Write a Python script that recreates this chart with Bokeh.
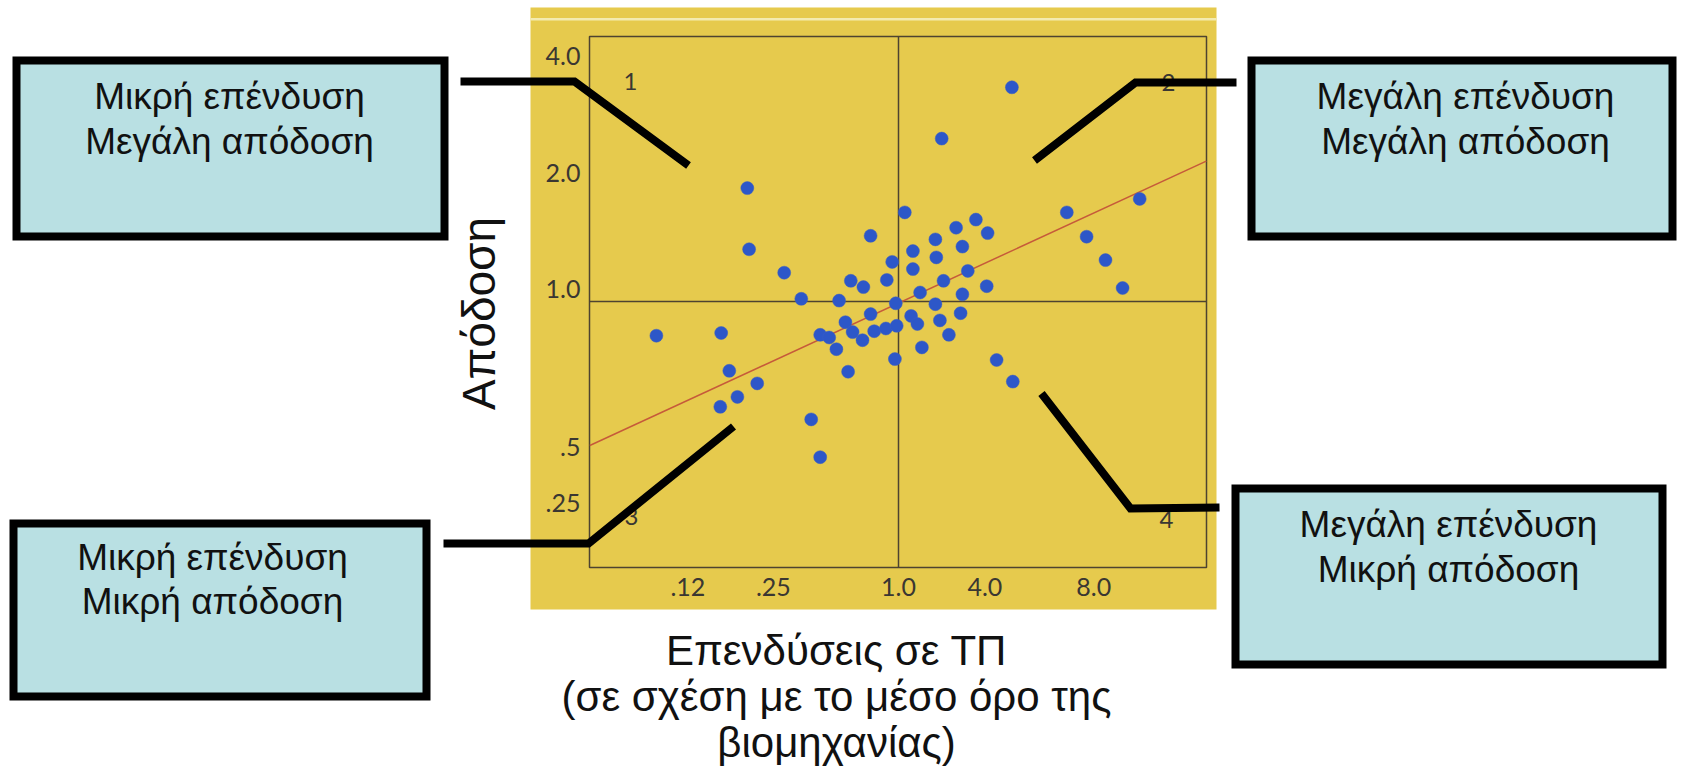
from math import pi
from bokeh.plotting import figure
from bokeh.models import Range1d, FixedTicker, BoxAnnotation, PolyAnnotation, Label, LinearAxis
from bokeh.embed import file_html
from bokeh.resources import INLINE

# ---------------- data (chart grid units, 0/0 = crossing of the "1.0" lines) ----------------
inv_x = [1.26, 0.48, -1.68, -1.66, -1.27, -0.31, 0.07, -0.07, 0.16, 0.16,
         -0.53, -0.39, -0.13, -1.08, -0.66, -0.03, 1.87, 2.68, 0.86, 0.64,
         0.99, 0.41, 0.71, 2.09, 0.42, 0.77, 2.30, 0.50, 0.98, 2.49,
         0.24, 0.71, 0.41, -0.31, 0.14, -2.69, -1.97, -0.59, -0.87, -0.77,
         -0.51, -0.40, -0.27, -0.14, -0.02, -0.69, -0.04, -0.56, -1.88, -1.57,
         -1.79, -1.98, -0.97, -0.87, 0.21, 0.46, 0.69, 0.56, 0.26, 1.09, 1.27]
ret_y = [2.38, 1.81, 1.26, 0.58, 0.32, 0.73, 0.99, 0.44, 0.56, 0.36,
         0.23, 0.16, 0.24, 0.03, 0.01, -0.02, 0.99, 1.14, 0.91, 0.82,
         0.76, 0.69, 0.61, 0.72, 0.49, 0.34, 0.46, 0.23, 0.17, 0.15,
         0.10, 0.08, -0.03, -0.14, -0.16, -0.38, -0.35, -0.23, -0.37, -0.40,
         -0.34, -0.43, -0.33, -0.30, -0.27, -0.53, -0.64, -0.78, -0.77, -0.91,
         -1.06, -1.17, -1.31, -1.73, -0.25, -0.21, -0.13, -0.37, -0.51, -0.65, -0.89]
trend_x = [-3.43, 3.42]
trend_y = [-1.60, 1.56]
x_tick_pos = [-2.34, -1.39, 0.0, 0.96, 2.17]
x_tick_labels = [".12", ".25", "1.0", "4.0", "8.0"]
y_tick_pos = [2.73, 1.43, 0.14, -1.62, -2.24]
y_tick_labels = ["4.0", "2.0", "1.0", ".5", ".25"]
quadrant_labels = ["1", "2", "3", "4"]
box_texts = [("Μικρή επένδυση", "Μεγάλη απόδοση"),
             ("Μεγάλη επένδυση", "Μεγάλη απόδοση"),
             ("Μικρή επένδυση", "Μικρή απόδοση"),
             ("Μεγάλη επένδυση", "Μικρή απόδοση")]
x_title = ["Επενδύσεις σε ΤΠ", "(σε σχέση με το μέσο όρο της", "βιομηχανίας)"]
y_title = "Απόδοση"

# ---------------- layout (canvas pixels) ----------------
W, H = 1677, 767
FL, FR, FT, FB = 589, 1206, 36, 567      # chart frame edges
X0, Y0, S = 898.0, 301.0, 90.0           # crossing point and px per chart unit
def ux(px): return (px - X0) / S
def uy(py): return (Y0 - py) / S

YELLOW = "#e6ca4d"
DARK = "#4e4330"
INK = "#3a3732"
BOXFILL = "#b9e0e3"

p = figure(frame_width=W, frame_height=H, min_border=0,
           x_range=Range1d(ux(0), ux(W)), y_range=Range1d(uy(H), uy(0)),
           x_axis_type=None, y_axis_type=None,
           output_backend="svg", toolbar_location=None, title_location=None,
           background_fill_color="white", border_fill_color="white", outline_line_color=None)
p.grid.visible = False

xax = LinearAxis(fixed_location=uy(FB))
yax = LinearAxis(fixed_location=ux(FL))
p.add_layout(xax, "below")
p.add_layout(yax, "left")
for ax, ticks, labels in ((xax, x_tick_pos, x_tick_labels), (yax, y_tick_pos, y_tick_labels)):
    ax.ticker = FixedTicker(ticks=ticks)
    ax.major_label_overrides = dict(zip(ticks, labels))
    ax.axis_line_color = None
    ax.major_tick_line_color = None
    ax.minor_tick_line_color = None
    ax.major_tick_out = 0
    ax.major_tick_in = 0
    ax.major_label_text_font = "Lato"
    ax.major_label_text_font_size = "25px"
    ax.major_label_text_color = INK
xax.major_label_standoff = 10
yax.major_label_standoff = 9

def cbox(l, r, t, b, **kw):
    return BoxAnnotation(left=l, right=r, top=t, bottom=b,
                         left_units="canvas", right_units="canvas",
                         top_units="canvas", bottom_units="canvas", **kw)

def clabel(x, y, text, **kw):
    return Label(x=x, y=y, x_units="canvas", y_units="canvas", text=text, **kw)

# yellow panel, frame, quadrant lines (beneath the data)
p.add_layout(cbox(530, 1216, 7, 609, fill_color=YELLOW, fill_alpha=1, line_color=None, level="underlay"))
p.add_layout(cbox(530, 1216, 17.5, 20, fill_color="#f3ebb0", fill_alpha=1, line_color=None, level="underlay"))
p.add_layout(cbox(X0 - 0.75, X0 + 0.75, FT, FB, fill_color=DARK, fill_alpha=1, line_color=None, level="underlay"))
p.add_layout(cbox(FL, FR, Y0 - 0.75, Y0 + 0.75, fill_color=DARK, fill_alpha=1, line_color=None, level="underlay"))
p.add_layout(cbox(FL, FR, FT, FB, fill_color=None, fill_alpha=0, line_color=DARK, line_alpha=1,
                  line_width=1.5, level="underlay"))

# trend line and points
p.line(trend_x, trend_y, line_color="#c65a3a", line_width=1.5)
p.scatter(inv_x, ret_y, size=13, fill_color="#2d57c8", line_color="#3a5fc4", line_width=0.5)

# quadrant numbers
for txt, (qx, qy) in zip(quadrant_labels, ((630, 81), (1168, 82), (631, 516), (1166, 519))):
    p.add_layout(clabel(qx, qy, txt, text_align="center", text_baseline="alphabetic",
                        text_font="Lato", text_font_size="24px", text_color=INK, level="annotation"))

# callout boxes
boxes = [(16, 444, 60, 236), (1251, 1672, 60, 236), (13, 426, 523, 696), (1235, 1662, 488, 664)]
for l, r, t, b in boxes:
    p.add_layout(cbox(l, r, t, b, fill_color=BOXFILL, fill_alpha=1, line_color="black", line_alpha=1,
                      line_width=8, line_join="miter", level="overlay"))

# callout lines
callouts = [((460, 81), (574, 81), (688, 165)),
            ((1236, 82), (1135, 82), (1034, 160)),
            ((443, 543), (588, 543), (733, 426)),
            ((1219, 507), (1130, 508), (1041, 393))]
for a, bpt, c in callouts:
    pts = [a, bpt, c, bpt]
    p.add_layout(PolyAnnotation(xs=[q[0] for q in pts], ys=[q[1] for q in pts],
                                xs_units="canvas", ys_units="canvas",
                                fill_color=None, fill_alpha=0, line_color="black", line_alpha=1,
                                line_width=8, line_join="miter", level="overlay"))

# texts in boxes
text_pos = [(229, 96, 141), (1465, 96, 141), (212, 557, 601), (1448, 524, 569)]
for (l1, l2), (cx, b1, b2) in zip(box_texts, text_pos):
    for txt, by in ((l1, b1), (l2, b2)):
        p.add_layout(clabel(cx, by, txt, text_align="center", text_baseline="alphabetic",
                            text_font="Liberation Sans", text_font_size="37px", text_color="#111111",
                            level="overlay"))

# axis titles
for txt, by in zip(x_title, (650, 696, 742)):
    p.add_layout(clabel(836, by, txt, text_align="center", text_baseline="alphabetic",
                        text_font="Liberation Sans", text_font_size="42px", text_color="#111111",
                        level="overlay"))
p.add_layout(clabel(478, 313, y_title, angle=pi / 2, text_align="center",
                    text_baseline="alphabetic", text_font="Liberation Sans", text_font_size="46px",
                    text_color="#111111", level="overlay"))

with open("out.html", "w", encoding="utf-8") as f:
    f.write(file_html(p, INLINE))
